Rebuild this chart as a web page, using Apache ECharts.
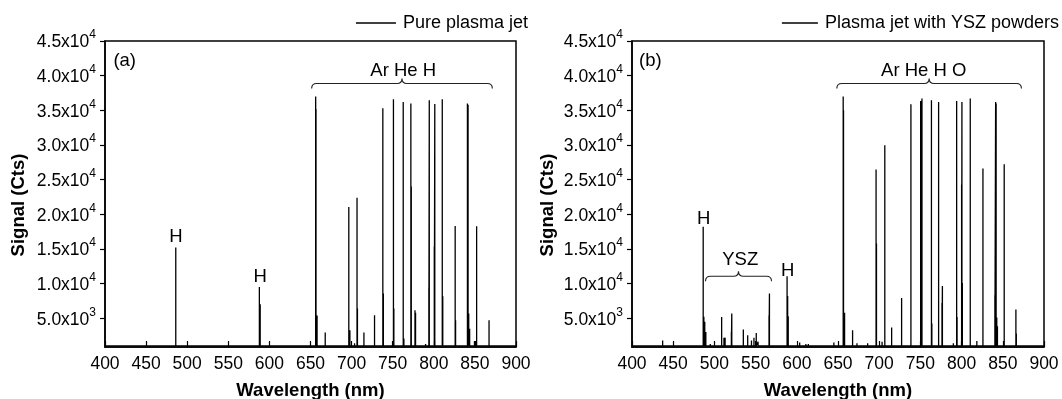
<!DOCTYPE html>
<html>
<head>
<meta charset="utf-8">
<script src="https://cdn.jsdelivr.net/npm/echarts@6/dist/echarts.min.js"></script>
<style>
  html, body { margin: 0; padding: 0; background: #fff; }
  #chart { width: 1062px; height: 399px; }
</style>
</head>
<body>
<div id="chart"></div>
<script>
// baseline counts of the spectrometer
const BASE = 1000;

// (a) pure plasma jet: peak wavelength (nm) and peak signal (Cts)
const pureWave = [433.7, 486.1, 556.0, 587.8, 588.8, 603.4, 656.3, 656.7, 658.0, 667.9,
  676.0, 688.2, 696.6, 697.9, 703.6, 706.6, 707.1, 715.0, 727.9, 738.0,
  738.6, 750.9, 751.4, 762.8, 763.6, 772.1, 772.6, 777.1, 777.8, 790.0,
  794.0, 794.5, 800.6, 801.2, 810.3, 810.9, 826.0, 826.5, 840.9, 841.7,
  842.5, 843.6, 849.5, 852.1, 867.2];
const pureSignal = [1100, 15200, 1100, 9500, 7000, 1240, 37000, 35200, 5400, 2930,
  1240, 1240, 21050, 3260, 1380, 22400, 6400, 2930, 5420, 35300,
  8560, 36600, 6400, 36200, 2060, 36000, 24000, 6150, 5800, 1300,
  9400, 36450, 15300, 35900, 36600, 8170, 18300, 4700, 36000, 35800,
  5670, 3500, 1700, 18270, 4700];

// (b) plasma jet with YSZ powders
const yszWave = [419.0, 437.2, 463.0, 476.0, 486.4, 487.2, 488.3, 489.6, 495.0, 508.8,
  511.6, 513.0, 520.6, 521.1, 535.1, 540.4, 545.0, 548.0, 550.8, 553.0,
  566.3, 566.8, 588.2, 588.9, 589.6, 603.5, 611.0, 614.0, 630.0, 645.0,
  656.3, 656.7, 658.0, 667.7, 673.0, 686.0, 696.2, 696.7, 703.5, 706.8,
  715.1, 727.2, 738.5, 750.3, 751.9, 763.4, 763.9, 772.1, 776.2, 776.7,
  790.0, 794.0, 794.5, 800.0, 800.4, 800.9, 810.5, 818.5, 825.9, 840.4,
  841.3, 841.9, 842.7, 843.5, 851.7, 865.9, 866.4, 877.0];
const yszSignal = [1100, 1800, 1100, 1150, 18200, 5200, 4500, 3000, 1300, 5180,
  2200, 2200, 3000, 5670, 3360, 2540, 1800, 2200, 2870, 1600,
  5400, 8560, 11050, 8200, 5300, 1500, 1300, 1300, 1200, 1500,
  37000, 35000, 5800, 3260, 1400, 1380, 26450, 15770, 1600, 29960,
  3650, 7920, 35870, 36350, 36690, 36450, 4230, 36200, 7200, 9650,
  1380, 36350, 5180, 24280, 36200, 10090, 36690, 1700, 26590, 8310,
  36200, 36000, 5090, 3840, 27220, 6250, 2780, 1100];

// y tick values
const yTicks = [5000, 10000, 15000, 20000, 25000, 30000, 35000, 40000, 45000];

// annotations (text and anchor in data units)
const pureNoteText = ['(a)', 'Ar He H', 'H', 'H'];
const pureNoteX = [410.2, 762.8, 486.4, 588.7];
const pureNoteY = [42080, 40630, 16680, 10910];
const yszNoteText = ['(b)', 'Ar He H O', 'H', 'YSZ', 'H'];
const yszNoteX = [408.6, 754.1, 487.0, 531.3, 589.0];
const yszNoteY = [42080, 40630, 19340, 13370, 11870];

// braces: start wavelength, end wavelength, signal level
const pureBraces = [[651.4, 871.2, 38860]];
const yszBraces = [[648.6, 872.6, 38860], [489.2, 569.3, 11050]];

const FONT = "'Liberation Sans', Arial, sans-serif";

// vertical stick for every peak, starting and ending on the baseline
function sticks(wave, signal) {
  const out = [[400, BASE]];
  wave.forEach((w, i) => {
    out.push([w, BASE], [w, signal[i]], [w, BASE]);
  });
  out.push([900, BASE]);
  return out;
}

function yLabel(v) {
  const e = Math.floor(Math.log10(v));
  const m = (v / Math.pow(10, e)).toFixed(1);
  return '{a|' + m + 'x10}{s|' + e + '}';
}

function xAxisOpt(idx) {
  return {
    type: 'value',
    gridIndex: idx,
    min: 400,
    max: 900,
    interval: 50,
    axisLine: { show: true, onZero: false, lineStyle: { color: '#000', width: 1.5 } },
    axisTick: { show: true, inside: true, length: 6, lineStyle: { color: '#000', width: 1.2 } },
    axisLabel: { color: '#000', fontSize: 17.5, fontFamily: FONT, margin: 8 },
    splitLine: { show: false },
    name: 'Wavelength (nm)',
    nameLocation: 'middle',
    nameGap: 34,
    nameTextStyle: { color: '#000', fontSize: 18.5, fontWeight: 'bold', fontFamily: FONT },
  };
}

function yAxisOpt(idx, gap) {
  return {
    type: 'value',
    gridIndex: idx,
    min: 850,
    max: 45000,
    axisLine: { show: true, onZero: false, lineStyle: { color: '#000', width: 1.5 } },
    axisTick: {
      show: true, inside: false, length: 5, customValues: yTicks,
      lineStyle: { color: '#000', width: 1.2 },
    },
    axisLabel: {
      customValues: yTicks,
      margin: 9,
      formatter: yLabel,
      rich: {
        // padding moves the glyphs inside each piece: main text a bit low, exponent high
        a: { color: '#000', fontSize: 17.5, fontFamily: FONT, lineHeight: 18, padding: [3, 0, 0, 0] },
        s: { color: '#000', fontSize: 12, fontFamily: FONT, lineHeight: 12, padding: [0, 0, 12, 0] },
      },
    },
    splitLine: { show: false },
    name: 'Signal (Cts)',
    nameLocation: 'middle',
    nameRotate: 90,
    nameGap: gap,
    nameTextStyle: {
      color: '#000', fontSize: 18.5, fontWeight: 'bold', fontFamily: FONT,
      padding: [0, 22, 0, 0],
    },
  };
}

function noteSeries(idx, texts, xs, ys) {
  return {
    type: 'custom',
    xAxisIndex: idx,
    yAxisIndex: idx,
    silent: true,
    clip: false,
    data: xs.map((x, i) => [x, ys[i]]),
    renderItem: function (params, api) {
      const p = api.coord([api.value(0), api.value(1)]);
      const t = texts[params.dataIndex];
      const left = t.charAt(0) === '(';
      return {
        type: 'text',
        x: p[0],
        y: p[1],
        style: {
          text: t,
          fill: '#000',
          font: '18.5px ' + FONT,
          align: left ? 'left' : 'center',
          verticalAlign: 'middle',
        },
      };
    },
  };
}

function braceSeries(idx, braces) {
  return {
    type: 'custom',
    xAxisIndex: idx,
    yAxisIndex: idx,
    silent: true,
    clip: false,
    data: braces,
    renderItem: function (params, api) {
      const a = api.coord([api.value(0), api.value(2)]);
      const b = api.coord([api.value(1), api.value(2)]);
      const y = a[1];
      const x1 = a[0];
      const x2 = b[0];
      const xm = (x1 + x2) / 2;
      const h = 5;
      const path =
        'M' + x1 + ',' + (y + h) +
        ' Q' + x1 + ',' + y + ' ' + (x1 + h) + ',' + y +
        ' L' + (xm - h) + ',' + y +
        ' Q' + xm + ',' + y + ' ' + xm + ',' + (y - h) +
        ' Q' + xm + ',' + y + ' ' + (xm + h) + ',' + y +
        ' L' + (x2 - h) + ',' + y +
        ' Q' + x2 + ',' + y + ' ' + x2 + ',' + (y + h);
      return {
        type: 'path',
        shape: { pathData: path },
        style: { stroke: '#222', lineWidth: 1.1, fill: null },
      };
    },
  };
}

const chart = echarts.init(document.getElementById('chart'), null, { renderer: 'canvas' });

// legend: thin rect as the line sample, text centred on it
const legendBase = {
  top: 14,
  padding: 0,
  icon: 'rect',
  itemHeight: 1.4,
  itemStyle: { color: '#000' },
  textStyle: { color: '#000', fontSize: 18, fontFamily: FONT, padding: [0, 0, 0, 2] },
};

const option = {
  animation: false,
  backgroundColor: '#fff',
  textStyle: { fontFamily: FONT },
  legend: [
    Object.assign({}, legendBase, { data: ['Pure plasma jet'], right: 534, itemWidth: 40 }),
    Object.assign({}, legendBase, { data: ['Plasma jet with YSZ powders'], right: 3, itemWidth: 36 }),
  ],
  grid: [
    { left: 105, right: 546, top: 41, bottom: 52, show: true, borderColor: '#000', borderWidth: 1.5, outerBoundsMode: 'none' },
    { left: 632, right: 18, top: 41, bottom: 52, show: true, borderColor: '#000', borderWidth: 1.5, outerBoundsMode: 'none' },
  ],
  xAxis: [xAxisOpt(0), xAxisOpt(1)],
  yAxis: [yAxisOpt(0, 77), yAxisOpt(1, 75)],
  series: [
    {
      name: 'Pure plasma jet',
      type: 'line',
      xAxisIndex: 0,
      yAxisIndex: 0,
      data: sticks(pureWave, pureSignal),
      symbol: 'none',
      lineStyle: { color: '#000', width: 1.3, join: 'bevel' },
      itemStyle: { color: '#000' },
    },
    {
      name: 'Plasma jet with YSZ powders',
      type: 'line',
      xAxisIndex: 1,
      yAxisIndex: 1,
      data: sticks(yszWave, yszSignal),
      symbol: 'none',
      lineStyle: { color: '#000', width: 1.3, join: 'bevel' },
      itemStyle: { color: '#000' },
    },
    noteSeries(0, pureNoteText, pureNoteX, pureNoteY),
    noteSeries(1, yszNoteText, yszNoteX, yszNoteY),
    braceSeries(0, pureBraces),
    braceSeries(1, yszBraces),
  ],
};

chart.setOption(option);
</script>
</body>
</html>
